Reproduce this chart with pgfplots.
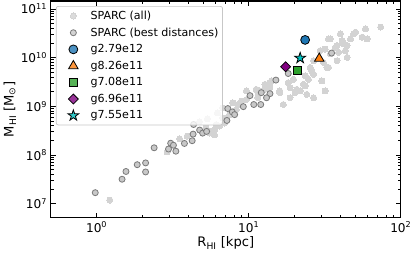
\documentclass[border=0pt]{standalone}
\usepackage{fontspec}
\setmainfont{DejaVu Sans}
\usepackage{pgfplots}
\pgfplotsset{compat=1.18}
\definecolor{mplblue}{HTML}{1F77B4}
\definecolor{mplorange}{HTML}{FF7F0E}
\definecolor{mplgreen}{HTML}{2CA02C}
\definecolor{mplpurple}{HTML}{800080}
\definecolor{mplcyan}{HTML}{00BFBF}
\definecolor{allgray}{HTML}{D3D3D3}
\definecolor{bestgray}{HTML}{C8C8C8}
\definecolor{bestedge}{HTML}{7A7A7A}

\pgfdeclareplotmark{fstar}{%
  \pgfpathmoveto{\pgfpointpolar{90}{1\pgfplotmarksize}}%
  \pgfpathlineto{\pgfpointpolar{126}{0.382\pgfplotmarksize}}%
  \pgfpathlineto{\pgfpointpolar{162}{1\pgfplotmarksize}}%
  \pgfpathlineto{\pgfpointpolar{198}{0.382\pgfplotmarksize}}%
  \pgfpathlineto{\pgfpointpolar{234}{1\pgfplotmarksize}}%
  \pgfpathlineto{\pgfpointpolar{270}{0.382\pgfplotmarksize}}%
  \pgfpathlineto{\pgfpointpolar{306}{1\pgfplotmarksize}}%
  \pgfpathlineto{\pgfpointpolar{342}{0.382\pgfplotmarksize}}%
  \pgfpathlineto{\pgfpointpolar{18}{1\pgfplotmarksize}}%
  \pgfpathlineto{\pgfpointpolar{54}{0.382\pgfplotmarksize}}%
  \pgfpathclose
  \pgfusepathqfillstroke}

\pgfplotsset{mylegimg/.style={legend image code/.code={\path[draw=none,fill=none] (0pt,-3pt) rectangle (30pt,3pt);\draw[mark repeat=2,mark phase=2,##1] plot coordinates {(0pt,0pt) (15pt,0pt) (30pt,0pt)};}}}

\pgfplotstableread{
R M
1.22 1.19e7
2.91 1.16e8
3.52 2.14e8
5.52 2.82e8
5.96 3.30e8
6.43 3.94e8
6.93 4.55e8
7.12 5.78e8
7.48 6.76e8
8.49 1.09e9
8.95 1.28e9
9.66 1.38e9
11.2 2.23e9
11.5 1.50e9
5.96 2.61e8
5.66 3.06e8
7.87 1.18e9
6.76 9.31e8
8.29 8.59e8
6.76 5.78e8
6.11 4.20e8
5.25 3.58e8
12.8 2.83e9
13.8 3.07e9
11.5 1.91e9
16.9 1.09e9
18.7 1.50e9
24.1 1.76e9
20.7 2.23e9
14.1 3.33e9
13.8 2.41e9
16.0 2.07e9
18.2 3.07e9
18.7 2.41e9
19.7 3.59e9
21.8 2.07e9
22.9 2.83e9
24.7 3.59e9
23.5 4.23e9
26.0 5.37e9
26.7 8.65e9
25.4 6.28e9
26.7 4.56e9
30.3 3.33e9
31.8 2.07e9
26.7 1.50e9
31.0 7.98e9
33.5 6.28e9
29.5 1.39e10
31.8 1.50e10
33.5 2.42e10
34.4 1.19e10
38.1 1.77e10
40.1 3.08e10
41.1 2.24e10
37.1 1.63e10
43.2 1.39e10
44.4 1.01e10
38.1 8.65e9
44.4 1.77e10
49.1 3.08e10
50.4 3.33e10
55.7 2.63e10
60.1 2.42e10
58.6 3.91e10
73.8 4.24e10
32.7 6.28e9
39.0 1.29e10
46.7 2.42e10
42.2 1.91e10
34.4 2.42e10
9.66 2.07e9
11.8 2.07e9
13.4 2.83e9
12.8 2.23e9
16.0 1.91e9
20.2 1.91e9
23.5 2.62e9
6.23 7.33e8
5.35 5.51e8
4.74 4.78e8
3.94 2.45e8
}\sparcall

\pgfplotstableread{
R M
0.98 1.69e7
1.47 3.19e7
1.56 4.60e7
1.85 6.34e7
2.10 6.90e7
2.10 4.50e7
2.39 1.41e8
2.97 1.33e8
3.07 1.75e8
3.20 1.59e8
3.32 1.20e8
3.78 1.73e8
4.25 1.97e8
4.31 2.69e8
4.34 4.24e8
4.76 3.26e8
4.98 2.82e8
5.29 3.06e8
7.29 9.0e8
7.80 7.69e8
8.08 6.76e8
9.22 9.86e8
10.2 1.66e9
10.8 1.09e9
12.0 1.09e9
12.1 1.91e9
13.8 1.82e9
13.1 1.50e9
7.19 5.13e8
15.1 3.46e9
18.2 4.72e9
35.1 1.24e10
}\sparcbest

\begin{document}
\fontsize{11}{13.2}\selectfont
\begin{tikzpicture}
\begin{axis}[
  xmode=log, ymode=log,
  scale only axis, width=347pt, height=215pt,
  xmin=0.5, xmax=100, ymin=5.13e6, ymax=1.45e11,
  xtick={1,10,100},
  xticklabels={10\textsuperscript{0},10\textsuperscript{1},10\textsuperscript{2}},
  ytick={1e7,1e8,1e9,1e10,1e11},
  yticklabels={10\textsuperscript{7},10\textsuperscript{8},10\textsuperscript{9},10\textsuperscript{10},10\textsuperscript{11}},
  tick align=inside,
  major tick length=5pt, minor tick length=2.8pt,
  every tick/.style={black, line width=0.8pt},
  axis line style={line width=1.1pt},
  ticklabel style={font=\fontsize{12}{14}\selectfont},
  label style={font=\fontsize{13}{15}\selectfont},
  xlabel={R\textsubscript{HI} [kpc]},
  ylabel={M\textsubscript{HI} [M\textsubscript{⊙}]},
  xlabel style={yshift=3pt},
  ylabel style={yshift=-3pt},
  legend cell align=left,
  legend style={at={(0.0144,0.977)}, anchor=north west,
    draw=black!22, line width=0.7pt, rounded corners=2pt, fill=white, fill opacity=0.8, text opacity=1,
    font=\fontsize{11}{13.2}\selectfont, row sep=2.6pt, inner xsep=2pt, inner ysep=2.5pt},
]
\addplot[only marks, mylegimg, color=allgray, mark=*, mark size=3pt, mark options={fill=allgray, draw=allgray, line width=0pt}] table[x=R,y=M] {\sparcall};
\addlegendentry{SPARC (all)}
\addplot[only marks, mylegimg, color=bestedge, mark=*, mark size=3pt, mark options={fill=bestgray, draw=bestedge, line width=0.8pt}] table[x=R,y=M] {\sparcbest};
\addlegendentry{SPARC (best distances)}
\addplot[only marks, mylegimg, color=black, mark=*, mark size=4.4pt, mark options={fill=mplblue, draw=black, line width=0.8pt}] coordinates {(23.5,2.31e10)};
\addlegendentry{g2.79e12}
\addplot[only marks, mylegimg, color=black, mark=triangle*, mark size=5.4pt, mark options={fill=mplorange, draw=black, line width=0.8pt}] coordinates {(29.1,9.6e9)};
\addlegendentry{g8.26e11}
\addplot[only marks, mylegimg, color=black, mark=square*, mark size=3.9pt, mark options={fill=mplgreen, draw=black, line width=0.8pt}] coordinates {(21.0,5.5e9)};
\addlegendentry{g7.08e11}
\addplot[only marks, mylegimg, color=black, mark=square*, mark size=3.5pt, mark options={fill=mplpurple, draw=black, line width=0.8pt, rotate=45}] coordinates {(17.5,6.5e9)};
\addlegendentry{g6.96e11}
\addplot[only marks, mylegimg, color=black, mark=fstar, mark size=5.6pt, mark options={fill=mplcyan, draw=black, line width=0.8pt}] coordinates {(21.8,9.8e9)};
\addlegendentry{g7.55e11}
\end{axis}
\end{tikzpicture}
\end{document}
